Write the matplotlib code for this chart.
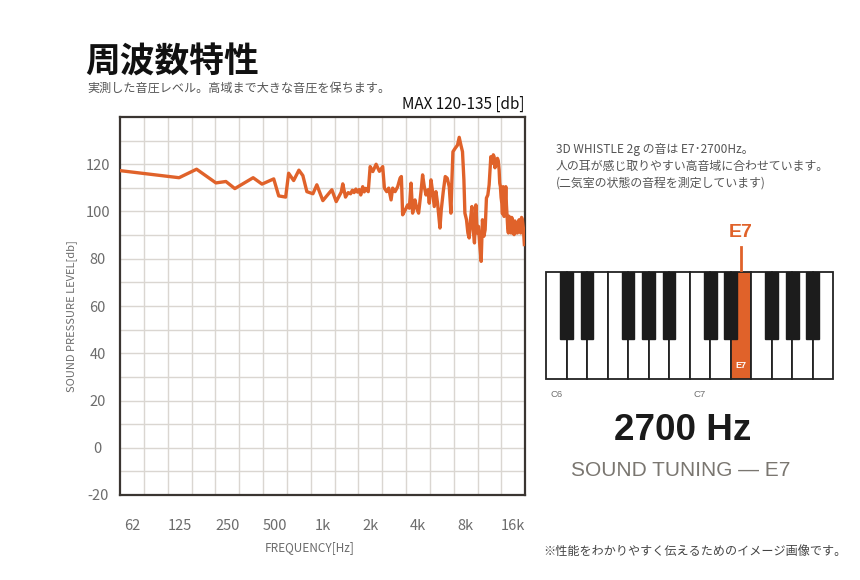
import matplotlib
matplotlib.use("Agg")
import matplotlib.pyplot as plt
from matplotlib.patches import Rectangle
from matplotlib.ticker import NullFormatter

plt.rcParams['font.family'] = ['Noto Sans CJK JP', 'DejaVu Sans']
plt.rcParams['axes.unicode_minus'] = False

ORANGE = '#e0622a'
GRAY = '#6c6c6c'

# --- datos: respuesta en frecuencia medida ---
freq_hz = [
    52.6, 124, 160, 212, 245, 279, 364, 414, 491, 528, 584, 610, 656, 708,
    750, 795, 868, 919, 1003, 1143, 1218, 1310, 1340, 1394, 1450, 1500,
    1540, 1580, 1620, 1660, 1700, 1740, 1790, 1830, 1870, 1940, 1995, 2073,
    2175, 2282, 2394, 2454, 2537, 2612, 2704, 2767, 2866, 2976, 3081, 3140,
    3199, 3327, 3440, 3526, 3614, 3699, 3830, 3920, 4035, 4178, 4276, 4383,
    4492, 4624, 4712, 4830, 4943, 5066, 5193, 5315, 5503, 5608, 5773, 5943,
    6117, 6297, 6455, 6549, 6645, 6870, 7103, 7280, 7462, 7637, 7794, 7907,
    8093, 8259, 8416, 8576, 8752, 8919, 9088, 9275, 9451, 9631, 9829, 10016,
    10206, 10416, 10614, 10816, 11038, 11248, 11528, 11660, 11799, 11950,
    12093, 12240, 12395, 12540, 12686, 12840, 13003, 13120, 13250, 13380,
    13522, 13650, 13779, 13881, 13981, 14150, 14330, 14460, 14602, 14740,
    14880, 15030, 15185, 15330, 15474, 15620, 15769, 15960, 16163, 16360,
    16566, 16760, 16955, 17160, 17378, 17590, 17812, 18020, 18230, 18500,
    18770,
]
spl_db = [
    117.3, 114.3, 117.9, 112.1, 112.7, 109.7, 114.3, 111.6, 113.8, 106.6,
    106.1, 116.2, 113.1, 117.5, 115.2, 108.4, 107.5, 111.3, 104.6, 109.2,
    104.2, 108.2, 111.7, 106.1, 108.0, 107.5, 109.0, 108.0, 109.5, 108.2,
    109.3, 107.0, 110.5, 108.3, 109.8, 108.4, 119.0, 116.9, 120.0, 117.0,
    119.0, 109.9, 108.4, 109.9, 104.9, 109.9, 108.4, 110.5, 114.1, 114.8,
    98.6, 100.7, 102.8, 101.4, 112.0, 99.3, 104.9, 101.4, 99.3, 108.4,
    115.5, 110.5, 107.0, 109.2, 103.5, 113.4, 108.4, 102.1, 108.4, 103.5,
    93.0, 100.7, 108.4, 114.8, 114.1, 110.5, 99.3, 113.4, 125.3, 126.8,
    128.1, 131.4, 128.1, 125.3, 113.4, 99.3, 96.5, 90.9, 88.8, 96.5,
    102.1, 92.3, 86.7, 102.8, 90.9, 93.7, 85.2, 78.9, 96.5, 89.5,
    92.3, 105.7, 107.0, 111.3, 123.2, 121.0, 120.4, 124.0,
    123.2, 118.5, 121.1, 119.5, 122.5, 121.5, 117.6, 112.0, 110.5, 106.0,
    103.5, 99.0, 110.5, 104.0, 97.9, 101.0, 110.5, 103.0, 97.9, 93.0,
    90.9, 98.0, 96.5, 92.0, 90.9, 97.5, 96.5, 91.5, 90.2, 96.0,
    95.1, 91.0, 90.9, 95.5, 96.5, 91.5, 90.9, 97.5, 96.5, 93.0,
    86.0,
]

tick_freqs = [62.5, 125, 250, 500, 1000, 2000, 4000, 8000, 16000]
tick_labels = ['62', '125', '250', '500', '1k', '2k', '4k', '8k', '16k']
y_ticks = [-20, 0, 20, 40, 60, 80, 100, 120]

# --- teclado ---
white_keys = ['C6', 'D6', 'E6', 'F6', 'G6', 'A6', 'B6',
              'C7', 'D7', 'E7', 'F7', 'G7', 'A7', 'B7']
sharp_after = ['C', 'D', 'F', 'G', 'A']
highlight = 'E7'
octave_labels = ['C6', 'C7']

info_lines = [
    '3D WHISTLE 2g の音は E7･2700Hz。',
    '人の耳が感じ取りやすい高音域に合わせています。',
    '(二気室の状態の音程を測定しています)',
]

fig = plt.figure(figsize=(8.6, 5.8), dpi=100)

# --- gráfico principal ---
ax = fig.add_axes([120 / 860, 1 - 495 / 580, 405.3 / 860, 378 / 580])
ax.set_xscale('log')
ax.set_xlim(62.5 * 2 ** -0.25, 62.5 * 2 ** 8.25)
ax.set_ylim(-20, 140)
ax.plot(freq_hz, spl_db, color=ORANGE, lw=2.4, solid_joinstyle='round', zorder=3)

ax.set_xticks(tick_freqs)
ax.set_xticklabels(tick_labels)
ax.set_xticks([62.5 * 2 ** (k / 2 + 0.25) for k in range(16)], minor=True)
ax.xaxis.set_minor_formatter(NullFormatter())
ax.set_yticks(y_ticks)
ax.set_yticks(range(-10, 140, 10), minor=True)
ax.yaxis.grid(True, which='both', color='#dad6d1', lw=1)
ax.xaxis.grid(True, which='minor', color='#dad6d1', lw=1)
ax.set_axisbelow(True)
ax.tick_params(which='both', length=0)
ax.tick_params(axis='x', pad=17, labelsize=10.5, labelcolor=GRAY)
ax.tick_params(axis='y', pad=16, labelsize=10.5, labelcolor=GRAY)
for lbl in ax.get_yticklabels():
    lbl.set_horizontalalignment('center')
for sp in ax.spines.values():
    sp.set_color('#3a3531')
    sp.set_linewidth(1.6)

fig.text(85 / 860, 1 - 62 / 580, '周波数特性', fontsize=25, fontweight='bold',
         color='#111111', va='center', ha='left')
fig.text(87 / 860, 1 - 88 / 580, '実測した音圧レベル。高域まで大きな音圧を保ちます。',
         fontsize=8.7, color='#555555', va='center', ha='left')
fig.text(525 / 860, 1 - 104 / 580, 'MAX 120-135 [db]', fontsize=11,
         color='#111111', va='center', ha='right')
fig.text(72 / 860, 1 - 316 / 580, 'SOUND PRESSURE LEVEL[db]', fontsize=8,
         color=GRAY, rotation=90, va='center', ha='center')
fig.text(310 / 860, 1 - 548 / 580, 'FREQUENCY[Hz]', fontsize=8.5,
         color=GRAY, va='center', ha='center')

# --- texto derecho ---
for i, line in enumerate(info_lines):
    fig.text(556 / 860, 1 - (150 + 16.5 * i) / 580, line, fontsize=8.6,
             color='#555555', va='center', ha='left')

# --- teclado de piano ---
pa = fig.add_axes([546 / 860, 1 - 379.3 / 580, 287.3 / 860, 107.6 / 580])
pa.set_xlim(0, len(white_keys))
pa.set_ylim(0, 1)
pa.axis('off')
hi = white_keys.index(highlight)
for i, name in enumerate(white_keys):
    face = ORANGE if name == highlight else 'white'
    pa.add_patch(Rectangle((i, 0), 1, 1, fc=face, ec='#222222', lw=1.3,
                           clip_on=False))
for i, name in enumerate(white_keys[:-1]):
    if name[0] in sharp_after:
        pa.add_patch(Rectangle((i + 1 - 0.31, 0.372), 0.62, 0.628,
                               fc='#1c1c1c', ec='#1c1c1c', lw=1,
                               clip_on=False))
pa.text(hi + 0.5, 0.13, highlight, color='white', fontsize=6.5,
        fontweight='bold', ha='center', va='center', family='Liberation Sans')
pa.text(hi + 0.5, 1.36, highlight, color=ORANGE, fontsize=14,
        fontweight='bold', ha='center', va='center', family='Liberation Sans')
pa.plot([hi + 0.5, hi + 0.5], [1.02, 1.23], color=ORANGE, lw=2, clip_on=False)
for name in octave_labels:
    i = white_keys.index(name)
    pa.text(i + 0.5, -0.14, name, color='#6f6f6f', fontsize=6.8,
            ha='center', va='center', family='Liberation Sans')

fig.text(683 / 860, 1 - 431 / 580, '2700 Hz', fontsize=26.5, fontweight='bold',
         color='#1a1a1a', va='center', ha='center', family='Liberation Sans')
fig.text(681 / 860, 1 - 471 / 580, 'SOUND TUNING — E7', fontsize=15,
         color='#7a7670', va='center', ha='center', family='Liberation Sans')
fig.text(543 / 860, 1 - 551 / 580, '※性能をわかりやすく伝えるためのイメージ画像です。',
         fontsize=8.7, color='#444444', va='center', ha='left')

fig.savefig('out.png', dpi=100)
